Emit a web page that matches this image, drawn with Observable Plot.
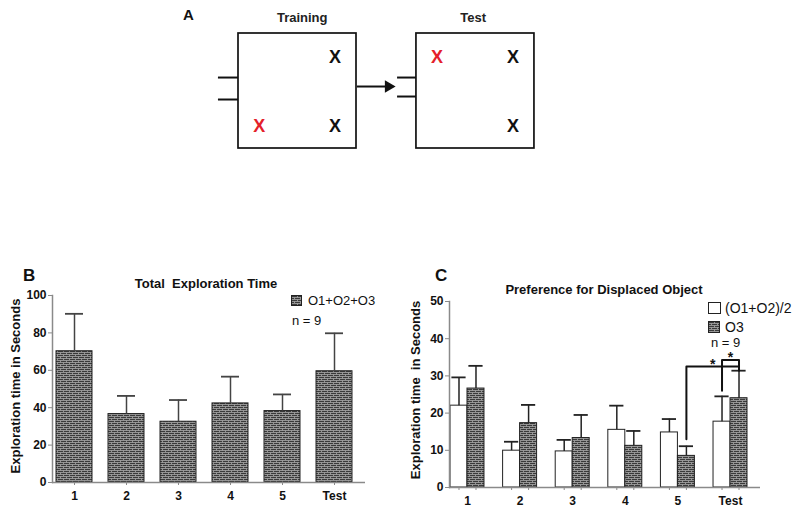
<!DOCTYPE html>
<html><head><meta charset="utf-8">
<script src="https://cdn.jsdelivr.net/npm/d3@7"></script>
<script src="https://cdn.jsdelivr.net/npm/@observablehq/plot@0.6"></script>
<style>
body{margin:0;background:#fff;font-family:"Liberation Sans",Arial,sans-serif;color:#111;}
#root{position:relative;width:797px;height:512px;overflow:hidden;}
#root svg{position:absolute;}
.t{position:absolute;white-space:pre;line-height:1;}
.sw{position:absolute;}
</style></head><body>
<svg width="0" height="0" style="position:absolute">
<defs>
<pattern id="brick" patternUnits="userSpaceOnUse" width="6" height="4">
<rect width="6" height="4" fill="#3a3a3a"/>
<path d="M0,0.5H6M0,2.5H6M0.5,0.5V2.5M3.5,2.5V4.5" stroke="#a9a9a9" stroke-width="0.8" fill="none"/>
</pattern>
</defs></svg>
<div id="root"></div>
<script>
// ---------- data ----------
const sessions = ["1", "2", "3", "4", "5", "Test"];
// Panel B: total exploration time (O1+O2+O3), mean and SEM
const totalMean = [70.2, 36.6, 32.5, 42.3, 38.2, 59.5];
const totalSem  = [20.0, 9.7, 11.6, 14.3, 8.9, 20.3];
// Panel C: familiar objects average vs displaced object
const seriesNames = ["(O1+O2)/2", "O3"];
const familiarMean  = [22.0, 9.9, 9.7, 15.5, 14.8, 17.7];
const familiarSem   = [7.6, 2.4, 3.1, 6.5, 3.6, 6.8];
const displacedMean = [26.6, 17.3, 13.3, 11.2, 8.5, 24.0];
const displacedSem  = [6.1, 4.9, 6.2, 4.0, 2.6, 7.4];
const yTicksB = [0, 20, 40, 60, 80, 100];
const yTicksC = [0, 10, 20, 30, 40, 50];
// significance brackets: [session, series, value]
const brackets = [
  {id: "5 vs Test", pts: [["5", "O3", 13.0], ["5", "O3", 32.5], ["Test", "O3", 32.5]]},
  {id: "Test pair", pts: [["Test", "(O1+O2)/2", 26.0], ["Test", "(O1+O2)/2", 34.3], ["Test", "O3", 34.3], ["Test", "O3", 31.4]]}
];
// Panel A: arena diagram
const arenas = ["Training", "Test"];
const objects = [
  {arena: "Training", col: "right", row: "top", moved: false},
  {arena: "Training", col: "right", row: "bottom", moved: false},
  {arena: "Training", col: "left", row: "bottom", moved: true},
  {arena: "Test", col: "left", row: "top", moved: true},
  {arena: "Test", col: "right", row: "top", moved: false},
  {arena: "Test", col: "right", row: "bottom", moved: false}
];

const root = document.getElementById("root");
const FONT = "'Liberation Sans', Arial, sans-serif";
function place(el, left, top) { el.style.left = left + "px"; el.style.top = top + "px"; root.appendChild(el); return el; }
function label(text, x, y, {size = 13, weight = "normal", anchor = "left", rotate = 0, color = "#111"} = {}) {
  const d = document.createElement("div");
  d.className = "t"; d.textContent = text;
  d.style.fontSize = size + "px"; d.style.fontWeight = weight; d.style.color = color;
  const tx = anchor === "middle" ? "-50%" : anchor === "right" ? "-100%" : "0";
  d.style.transformOrigin = "0 0";
  d.style.transform = rotate ? `rotate(${rotate}deg) translate(-50%,-50%)` : `translate(${tx},-50%)`;
  return place(d, x, y);
}
function swatch(x, y, w, h, fill) {
  const ns = "http://www.w3.org/2000/svg";
  const s = document.createElementNS(ns, "svg");
  s.setAttribute("width", w + 2); s.setAttribute("height", h + 2);
  const r = document.createElementNS(ns, "rect");
  r.setAttribute("x", 0.5); r.setAttribute("y", 0.5); r.setAttribute("width", w); r.setAttribute("height", h);
  r.setAttribute("fill", fill); r.setAttribute("stroke", "#222"); r.setAttribute("stroke-width", 1);
  s.appendChild(r);
  s.style.left = x + "px"; s.style.top = y + "px";
  root.appendChild(s);
}

// ---------- Panel A ----------
const arenaX0 = {Training: 0, Test: 1.508};
const colX = {left: 0.175, right: 0.818};
const rowY = {top: 0.205, bottom: 0.809};
const doors = [
  {arena: "Training", y: 0.383, len: 0.17}, {arena: "Training", y: 0.574, len: 0.17},
  {arena: "Test", y: 0.383, len: 0.16}, {arena: "Test", y: 0.548, len: 0.16}
];
const A = Plot.plot({
  width: 797, height: 170, margin: 0,
  style: {fontFamily: FONT, background: "transparent", overflow: "visible"},
  x: {domain: [0, 1], range: [238, 356], axis: null},
  y: {domain: [0, 1], range: [33, 148], axis: null},
  marks: [
    Plot.rect(arenas, {x1: d => arenaX0[d], x2: d => arenaX0[d] + 1, y1: 0, y2: 1, fill: "none", stroke: "#111", strokeWidth: 1.7}),
    Plot.text(arenas, {x: d => arenaX0[d] + 0.5 + (d === "Training" ? 0.04 : -0.02), y: -0.139, text: d => d, fontSize: 13, fontWeight: "bold", fill: "#222"}),
    Plot.ruleY(doors, {x1: d => arenaX0[d.arena] - d.len, x2: d => arenaX0[d.arena], y: "y", stroke: "#111", strokeWidth: 2}),
    Plot.ruleY(["arrow"], {x1: 1.008, x2: 1.25, y: 0.461, stroke: "#111", strokeWidth: 2}),
    Plot.dot(["arrow"], {x: 1.271, y: 0.461, symbol: "triangle", rotate: 90, r: 4.6, fill: "#111", stroke: "none"}),
    Plot.text(objects, {x: d => arenaX0[d.arena] + colX[d.col], y: d => rowY[d.row], text: () => "X", fontSize: 18, fontWeight: "bold", fill: d => d.moved ? "#e4202a" : "#111"})
  ]
});
place(A, 0, 0);
label("A", 183, 14, {size: 15, weight: "bold"});

// ---------- Panel B ----------
const rowsB = sessions.map((s, i) => ({session: s, mean: totalMean[i], sem: totalSem[i]}));
const B = Plot.plot({
  width: 400, height: 252, marginLeft: 52, marginRight: 35, marginTop: 35, marginBottom: 30,
  style: {fontFamily: FONT, fontSize: "12px", fontWeight: "bold", color: "#111", background: "transparent", overflow: "visible"},
  x: {domain: sessions, paddingInner: 0.3, paddingOuter: 0.103, align: 0.23, label: null},
  y: {domain: [0, 100], label: null},
  marks: [
    Plot.barY(rowsB, {x: "session", y: "mean", fill: "url(#brick)", stroke: "#222", strokeWidth: 1}),
    Plot.ruleX(rowsB, {x: "session", y1: "mean", y2: d => d.mean + d.sem, stroke: "#444", strokeWidth: 1.5}),
    Plot.tickY(rowsB, {x: "session", y: d => d.mean + d.sem, insetLeft: 9, insetRight: 9, stroke: "#444", strokeWidth: 1.8}),
    Plot.frame({anchor: "left", stroke: "#8a8a8a", strokeWidth: 1.5}),
    Plot.ruleY([0], {stroke: "#8a8a8a", strokeWidth: 1.5}),
    Plot.axisY({ticks: yTicksB, tickSize: 4, tickPadding: 2, stroke: "#8a8a8a", label: null}),
    Plot.axisX({tickSize: 3, tickPadding: 6, stroke: "#8a8a8a", label: null})
  ]
});
place(B, 0, 260);
label("B", 23, 275, {size: 17, weight: "bold"});
label("Total  Exploration Time", 206, 283, {size: 13, weight: "bold", anchor: "middle"});
label("Exploration time in Seconds", 15, 386, {size: 13, weight: "bold", rotate: -90});
swatch(291, 295, 10, 10, "url(#brick)");
label("O1+O2+O3", 308, 300, {size: 13});
label("n = 9", 292, 320, {size: 13});

// ---------- Panel C ----------
const BW = 0.323, CAP = 0.135;
const sIndex = s => sessions.indexOf(s);
const barCenter = (session, series) => sIndex(session) + (series === "O3" ? 0.5 : -0.5) * BW;
const rowsC = [];
sessions.forEach((s, i) => {
  rowsC.push({session: s, series: seriesNames[0], mean: familiarMean[i], sem: familiarSem[i]});
  rowsC.push({session: s, series: seriesNames[1], mean: displacedMean[i], sem: displacedSem[i]});
});
const bracketPts = brackets.flatMap(b => b.pts.map(([s, ser, v]) => ({id: b.id, x: barCenter(s, ser), y: v})));
const stars = brackets.map(b => {
  const top = Math.max(...b.pts.map(p => p[2]));
  const xs = b.pts.map(p => barCenter(p[0], p[1]));
  return {x: (Math.min(...xs) + Math.max(...xs)) / 2, y: top};
});
const C = Plot.plot({
  width: 397, height: 252, marginLeft: 49, marginRight: 37, marginTop: 41, marginBottom: 25,
  style: {fontFamily: FONT, fontSize: "12px", fontWeight: "bold", color: "#111", background: "transparent", overflow: "visible"},
  x: {domain: [-0.342, 5.57], label: null},
  y: {domain: [0, 50], label: null},
  marks: [
    Plot.rect(rowsC.filter(d => d.series === seriesNames[0]), {x1: d => barCenter(d.session, d.series) - BW / 2, x2: d => barCenter(d.session, d.series) + BW / 2, y1: 0, y2: "mean", fill: "white", stroke: "#222", strokeWidth: 1}),
    Plot.rect(rowsC.filter(d => d.series === seriesNames[1]), {x1: d => barCenter(d.session, d.series) - BW / 2, x2: d => barCenter(d.session, d.series) + BW / 2, y1: 0, y2: "mean", fill: "url(#brick)", stroke: "#222", strokeWidth: 1}),
    Plot.ruleX(rowsC, {x: d => barCenter(d.session, d.series), y1: "mean", y2: d => d.mean + d.sem, stroke: "#222", strokeWidth: 1.5}),
    Plot.ruleY(rowsC, {y: d => d.mean + d.sem, x1: d => barCenter(d.session, d.series) - CAP, x2: d => barCenter(d.session, d.series) + CAP, stroke: "#222", strokeWidth: 1.8}),
    Plot.line(bracketPts, {x: "x", y: "y", z: "id", stroke: "#111", strokeWidth: 2, curve: "linear"}),
    Plot.text(stars, {x: "x", y: "y", text: () => "*", fontSize: 14, fontWeight: "bold", dy: -2, lineAnchor: "middle"}),
    Plot.frame({anchor: "left", stroke: "#8a8a8a", strokeWidth: 1.5}),
    Plot.ruleY([0], {stroke: "#8a8a8a", strokeWidth: 1.5}),
    Plot.axisY({ticks: yTicksC, tickSize: 4, tickPadding: 2, stroke: "#8a8a8a", label: null}),
    Plot.axisX({ticks: rowsC.map(d => barCenter(d.session, d.series)), tickSize: 3, tickFormat: () => "", stroke: "#8a8a8a", label: null}),
    Plot.axisX({ticks: sessions.map((s, i) => i), tickSize: 0, tickPadding: 9, tickFormat: i => sessions[i], label: null})
  ]
});
place(C, 400, 260);
label("C", 435, 275, {size: 17, weight: "bold"});
label("Preference for Displaced Object", 604, 289, {size: 13, weight: "bold", anchor: "middle"});
label("Exploration time  in Seconds", 415, 390, {size: 13, weight: "bold", rotate: -90});
swatch(708, 302, 12, 11, "white");
label(seriesNames[0], 725, 308, {size: 14});
swatch(708, 321, 11, 11, "url(#brick)");
label(seriesNames[1], 725, 326.5, {size: 14});
label("n = 9", 711, 341.5, {size: 13});
</script>
</body></html>
